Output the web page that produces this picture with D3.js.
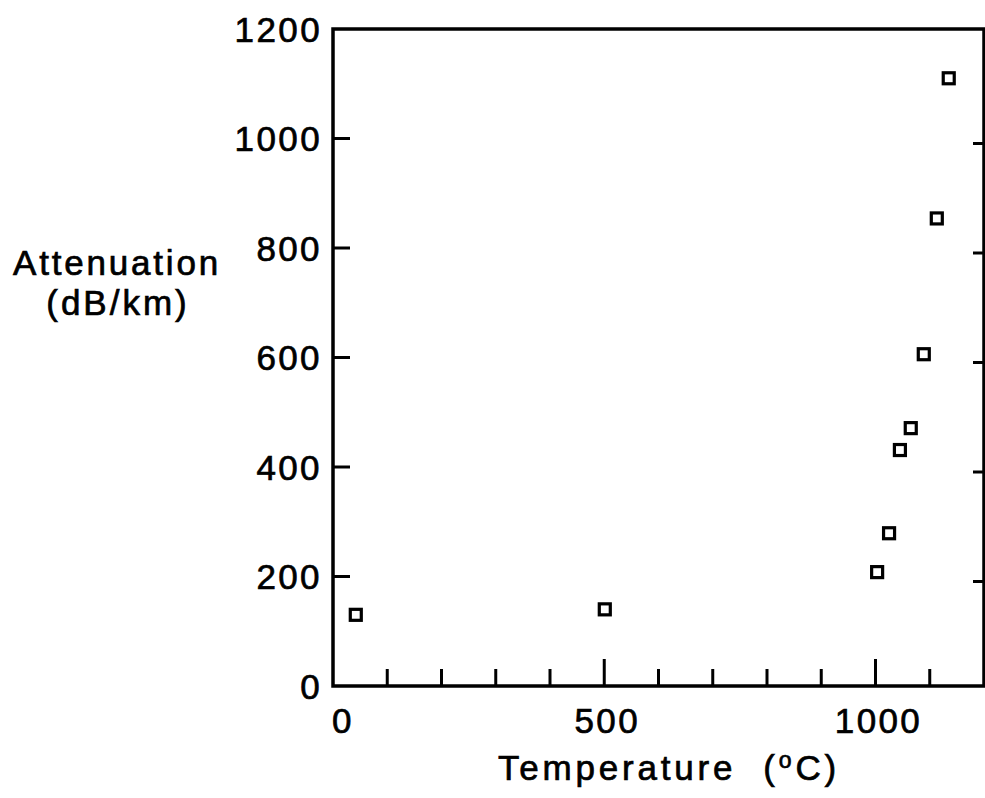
<!DOCTYPE html>
<html><head><meta charset="utf-8">
<script src="https://cdn.jsdelivr.net/npm/d3@7"></script>
<style>body{margin:0;background:#fff}svg{display:block}text{font-family:"Liberation Sans",Arial,sans-serif;fill:#000;stroke:#000;stroke-width:0.7px}</style>
</head><body>
<script>
const temperature = [42, 501, 1003, 1025, 1045, 1065, 1089, 1113, 1135];
const attenuation = [130, 140, 208, 279, 431, 471, 606, 854, 1110];
const xTickLabels = [0, 500, 1000];
const yTickLabels = [0, 200, 400, 600, 800, 1000, 1200];
const xMinorTicks = [100, 200, 300, 400, 500, 600, 700, 800, 900, 1000, 1100];
const yInnerTicks = [200, 400, 600, 800, 1000];

const W = 985, H = 798;
const svg = d3.select("body").append("svg").attr("width", W).attr("height", H);
const x = d3.scaleLinear().domain([0, 1200]).range([333, 984]);
const y = d3.scaleLinear().domain([0, 1200]).range([686, 29]);

// frame
svg.append("rect").attr("x", x(0)).attr("y", y(1200)).attr("width", x(1200) - x(0)).attr("height", y(0) - y(1200))
  .attr("fill", "none").attr("stroke", "#000").attr("stroke-width", 3.5);

// x ticks (inward, upward)
svg.selectAll(".xt").data(xMinorTicks).enter().append("line")
  .attr("x1", d => x(d)).attr("x2", d => x(d))
  .attr("y1", y(0)).attr("y2", d => y(0) - (d % 500 === 0 ? 27 : 17))
  .attr("stroke", "#000").attr("stroke-width", 3);

// left y ticks (inward)
svg.selectAll(".ylt").data(yInnerTicks).enter().append("line")
  .attr("x1", x(0)).attr("x2", x(0) + 17)
  .attr("y1", d => y(d)).attr("y2", d => y(d))
  .attr("stroke", "#000").attr("stroke-width", 3);

// right y ticks (inward)
svg.selectAll(".yrt").data(yInnerTicks).enter().append("line")
  .attr("x1", x(1200)).attr("x2", x(1200) - 11)
  .attr("y1", d => y(d) + 5).attr("y2", d => y(d) + 5)
  .attr("stroke", "#000").attr("stroke-width", 3);

// tick labels
svg.selectAll(".xl").data(xTickLabels).enter().append("text")
  .attr("x", d => x(d) + (d === 0 ? 10 : 3)).attr("y", 733)
  .attr("text-anchor", "middle").attr("font-size", 35).attr("letter-spacing", 2.4)
  .text(d => d);
svg.selectAll(".yl").data(yTickLabels).enter().append("text")
  .attr("x", 322).attr("y", d => y(d) + 12.5)
  .attr("text-anchor", "end").attr("font-size", 35).attr("letter-spacing", 2.4)
  .text(d => d);

// axis titles
svg.append("text").attr("x", 669).attr("y", 780).attr("text-anchor", "middle")
  .attr("font-size", 35).attr("letter-spacing", 3.8)
  .html('Temperature&#160;&#160;(<tspan font-size="23" dy="-12">o</tspan><tspan dy="12">C)</tspan>');
svg.append("text").attr("x", 117).attr("y", 275).attr("text-anchor", "middle")
  .attr("font-size", 35).attr("letter-spacing", 2.8).text("Attenuation");
svg.append("text").attr("x", 118).attr("y", 315).attr("text-anchor", "middle")
  .attr("font-size", 35).attr("letter-spacing", 3).text("(dB/km)");

// points
svg.selectAll(".pt").data(temperature).enter().append("rect")
  .attr("x", (d, i) => x(d) - 5.5).attr("y", (d, i) => y(attenuation[i]) - 5.5)
  .attr("width", 11).attr("height", 11)
  .attr("fill", "#fff").attr("stroke", "#000").attr("stroke-width", 3.2);
</script>
</body></html>
